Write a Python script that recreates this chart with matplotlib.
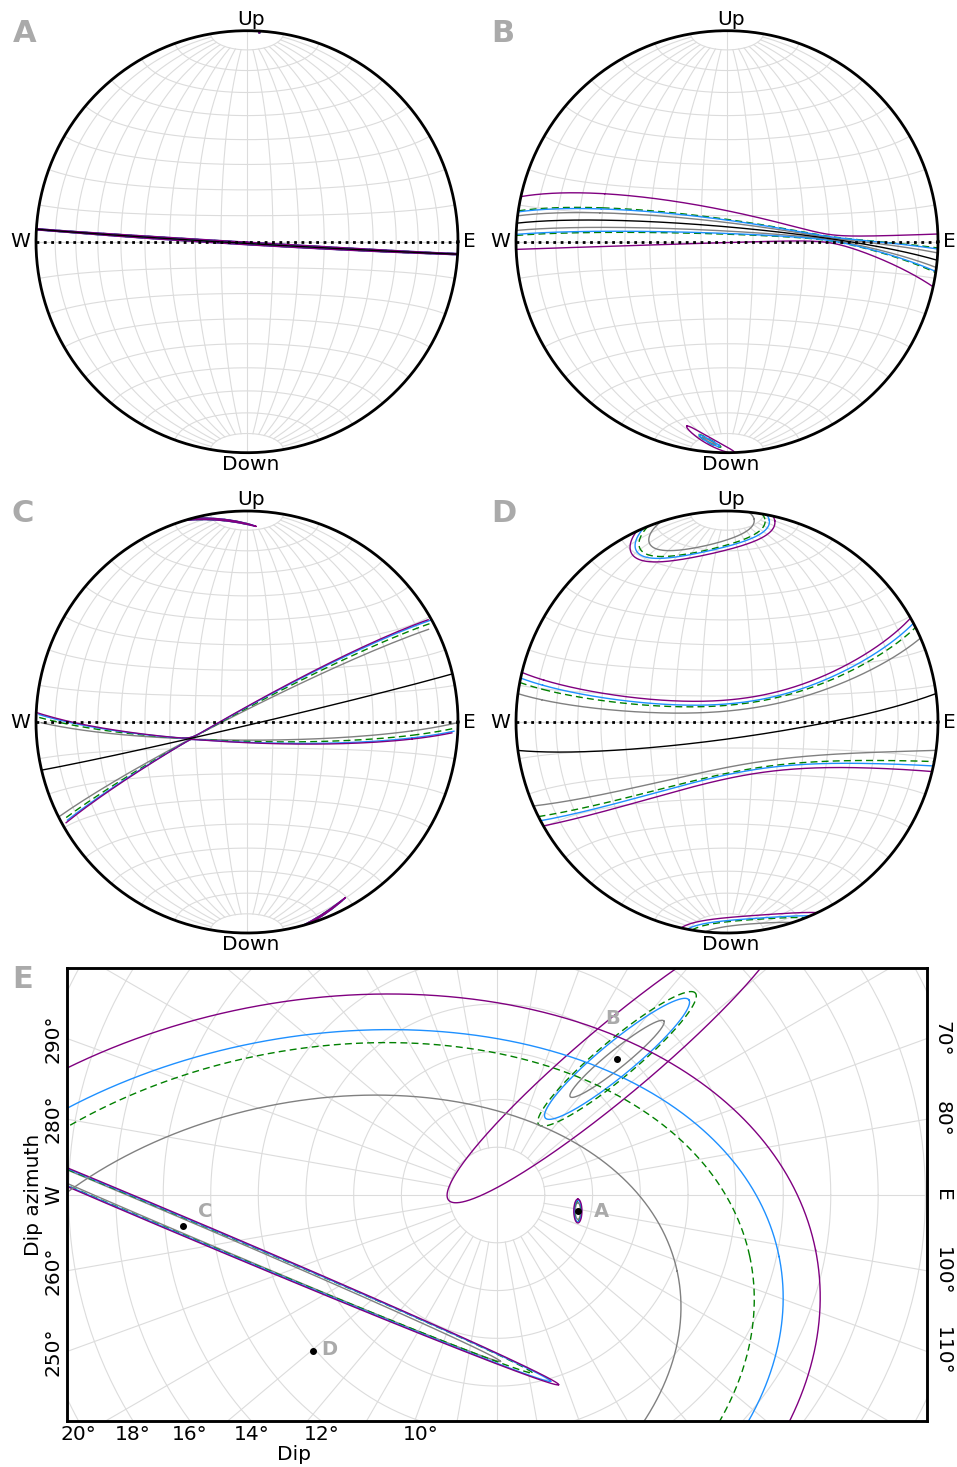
import numpy as np
import matplotlib
matplotlib.use("Agg")
import matplotlib.pyplot as plt

# mean pole of each fitted plane (dip, dip azimuth), degrees
sites = ["A", "B", "C", "D"]
pole_dip = [3.45, 7.6, 13.25, 10.1]
pole_dipaz = [101.2, 41.4, 264.4, 229.8]

# confidence ellipses in the dip/azimuth plane (panel E units, degrees)
# order of levels: gray, green dashed, blue, purple
A_major = [0.35, 0.42, 0.45, 0.50]
A_minor = [0.11, 0.14, 0.15, 0.17]
A_angle = [90, 90, 90, 90]
B_major = [2.52, 4.28, 3.89, 9.2]
B_minor = [0.38, 0.78, 0.70, 1.48]
B_angle = [39.0, 40.0, 39.5, 40.0]
C_major = [14.46, 15.87, 16.72, 17.08]
C_minor = [0.28, 0.33, 0.35, 0.38]
C_angle = [-23.1, -22.8, -22.9, -22.9]
D_major = [15.6, 18.7, 19.9, 21.45]
D_minor = [10.4, 12.55, 13.1, 14.6]
D_angle = [12.3, 12.2, 11.4, 11.3]

dip_ticks = [20, 18, 16, 14, 12, 10]
left_az_ticks = [250, 260, 270, 280, 290]
left_az_labels = ["250°", "260°", "W", "280°", "290°"]
right_az_ticks = [70, 80, 90, 100, 110]
right_az_labels = ["70°", "80°", "E", "100°", "110°"]

level_colors = ["#808080", "#008000", "#1e90ff", "#800080"]
level_styles = ["-", (0, (5, 3)), "-", "-"]
GRID = "#dcdcdc"
LETTER = "#aaaaaa"
FS = 14.5

plt.rcParams["font.family"] = ["DejaVu Sans"]

DEG = 180 / np.pi
W_PX, H_PX = 957, 1467
KPX = 23.9  # pixels per degree in panel E


def to_plane(dip, az):
    r = 2 * np.sin(np.radians(dip) / 2) * DEG
    return r * np.sin(np.radians(az)), r * np.cos(np.radians(az))


def from_plane(X, Y):
    x, y = np.asarray(X) / DEG, np.asarray(Y) / DEG
    rho2 = x ** 2 + y ** 2
    s = np.sqrt(np.clip(1 - rho2 / 4, 0, None))
    return np.column_stack([x * s, y * s, 1 - rho2 / 2])


def ellipse(cx, cy, a, b, ang, n=4000):
    t = np.linspace(0, 2 * np.pi, n, endpoint=False)
    th = np.radians(ang)
    ex, ey = a * np.cos(t), b * np.sin(t)
    return cx + ex * np.cos(th) - ey * np.sin(th), cy + ex * np.sin(th) + ey * np.cos(th)


def net_xy(v):
    # equal-area view looking along the horizontal N-S axis, E to the right, Up on top
    v = np.atleast_2d(v)
    d = np.sqrt(np.clip(1 - v[:, 1], 1e-12, None))
    x = v[:, 0] / d
    y = v[:, 2] / d
    hidden = v[:, 1] > 1e-9
    x[hidden] = np.nan
    y[hidden] = np.nan
    return x, y


def px_axes(fig, x0, y0, x1, y1):
    return fig.add_axes([x0 / W_PX, 1 - y1 / H_PX, (x1 - x0) / W_PX, (y1 - y0) / H_PX])


def draw_net(ax):
    for lon in range(-80, 81, 10):
        cap = 90 if lon == 0 else 80
        phi = np.radians(np.linspace(-cap, cap, 181))
        lam = np.radians(lon)
        v = np.column_stack([np.cos(phi) * np.sin(lam), -np.cos(phi) * np.cos(lam), np.sin(phi)])
        ax.plot(*net_xy(v), color=GRID, lw=0.8, zorder=0)
    for lat in range(-80, 81, 10):
        lam = np.radians(np.linspace(-90, 90, 181))
        phi = np.radians(lat)
        v = np.column_stack([np.cos(phi) * np.sin(lam), -np.cos(phi) * np.cos(lam),
                             np.full_like(lam, np.sin(phi))])
        ax.plot(*net_xy(v), color=GRID, lw=0.8, zorder=0)


def closed(S):
    return np.vstack([S, S[:1]])


site_ell = {
    "A": (A_major, A_minor, A_angle),
    "B": (B_major, B_minor, B_angle),
    "C": (C_major, C_minor, C_angle),
    "D": (D_major, D_minor, D_angle),
}

fig = plt.figure(figsize=(9.57, 14.67), dpi=100)

# ---- panels A-D: great circles with confidence envelopes ----
centers = [(247, 241.7), (727, 241.7), (247, 722), (727, 722)]
letter_pos = [(24.5, 33.5), (502.5, 33.5), (23, 513.5), (504, 514)]
R = 211.0
M = 235.0
for i, site in enumerate(sites):
    cx, cy = centers[i]
    ax = px_axes(fig, cx - M, cy - M, cx + M, cy + M)
    ax.set_xlim(-M / R, M / R)
    ax.set_ylim(-M / R, M / R)
    ax.axis("off")
    draw_net(ax)
    t = np.linspace(0, 2 * np.pi, 500)
    ax.plot(np.cos(t), np.sin(t), color="black", lw=2, zorder=6)
    ax.plot([-1, 1], [0, 0], color="black", lw=2, ls=":", zorder=4)

    px, py = to_plane(pole_dip[i], pole_dipaz[i])
    major, minor, angle = site_ell[site]
    for k in range(4):
        X, Y = ellipse(px, py, major[k], minor[k], angle[k])
        V = from_plane(X, Y)
        dV = np.roll(V, -1, axis=0) - np.roll(V, 1, axis=0)
        U = np.cross(V, dV)
        U /= np.linalg.norm(U, axis=1, keepdims=True)
        for S in (V, -V, U, -U):
            ax.plot(*net_xy(closed(S)), color=level_colors[k], ls=level_styles[k],
                    lw=1.0, zorder=2 + k * 0.1)

    # mean plane great circle
    n = from_plane([px], [py])[0]
    e1 = np.cross(n, [0, 0, 1.0])
    e1 /= np.linalg.norm(e1)
    e2 = np.cross(n, e1)
    s = np.linspace(0, 2 * np.pi, 2000)
    G = np.outer(np.cos(s), e1) + np.outer(np.sin(s), e2)
    ax.plot(*net_xy(G), color="black", lw=1.0, zorder=3)

    ax.text(4 / R, 1 + 5.7 / R, "Up", ha="center", va="baseline", fontsize=FS)
    ax.text(4 / R, -1 - 2.3 / R, "Down", ha="center", va="top", fontsize=FS)
    ax.text(-1 - 6 / R, 0, "W", ha="right", va="center", fontsize=FS)
    ax.text(1 + 4.7 / R, 0, "E", ha="left", va="center", fontsize=FS)
    lx, ly = letter_pos[i]
    fig.text(lx / W_PX, 1 - ly / H_PX, site, ha="center", va="center",
             fontsize=22, fontweight="bold", color=LETTER)

# ---- panel E: poles in dip / dip-azimuth space ----
axE = px_axes(fig, 67, 968.3, 927, 1421)
x_lo, x_hi = -430 / KPX, 430 / KPX
y_lo, y_hi = -226 / KPX, 226.7 / KPX
axE.set_xlim(x_lo, x_hi)
axE.set_ylim(y_lo, y_hi)

for d in range(2, 40, 2):
    r = 2 * np.sin(np.radians(d) / 2) * DEG
    t = np.linspace(0, 2 * np.pi, 400)
    axE.plot(r * np.cos(t), r * np.sin(t), color=GRID, lw=0.8, zorder=0)
r_in = 2 * np.sin(np.radians(2) / 2) * DEG
for az in range(0, 360, 10):
    r0 = 0 if az % 90 == 0 else r_in
    a = np.radians(az)
    axE.plot([r0 * np.sin(a), 40 * np.sin(a)], [r0 * np.cos(a), 40 * np.cos(a)],
             color=GRID, lw=0.8, zorder=0)

label_off = {"A": (17, 0), "B": (-3, 29), "C": (16.5, 10), "D": (12, 0.5)}
for i, site in enumerate(sites):
    px, py = to_plane(pole_dip[i], pole_dipaz[i])
    major, minor, angle = site_ell[site]
    for k in range(4):
        X, Y = ellipse(px, py, major[k], minor[k], angle[k], n=1500)
        axE.plot(np.append(X, X[0]), np.append(Y, Y[0]), color=level_colors[k],
                 ls=level_styles[k], lw=1.0, zorder=2)
    axE.plot(px, py, "o", color="black", ms=4, zorder=5)
    axE.annotate(site, (px, py), xytext=label_off[site], textcoords="offset points",
                 ha="center", va="center", fontsize=14, fontweight="bold", color=LETTER)

xt = [-np.sqrt((2 * np.sin(np.radians(d) / 2) * DEG) ** 2 - y_lo ** 2) for d in dip_ticks]
axE.set_xticks(xt)
axE.set_xticklabels([f"{d}°" for d in dip_ticks], fontsize=FS)
yl = [x_lo * np.cos(np.radians(a)) / np.sin(np.radians(a)) for a in left_az_ticks]
axE.set_yticks(yl)
axE.set_yticklabels(left_az_labels, fontsize=FS, rotation=90, va="center")
axE.tick_params(length=0, pad=3)

axR = axE.twinx()
axR.set_ylim(y_lo, y_hi)
yr = [x_hi * np.cos(np.radians(a)) / np.sin(np.radians(a)) for a in right_az_ticks]
axR.set_yticks(yr)
axR.set_yticklabels(right_az_labels, fontsize=FS, rotation=-90, va="center")
axR.tick_params(length=0, pad=4)

for a in (axE, axR):
    for sp in a.spines.values():
        sp.set_linewidth(1.8)

fig.text(33.5 / W_PX, 1 - 1195 / H_PX, "Dip azimuth", rotation=90, ha="center",
         va="center", fontsize=FS)
fig.text(294 / W_PX, 1 - 1455 / H_PX, "Dip", ha="center", va="center", fontsize=FS)
fig.text(22.5 / W_PX, 1 - 980 / H_PX, "E", ha="center", va="center",
         fontsize=22, fontweight="bold", color=LETTER)

fig.savefig("out.png", dpi=100)
